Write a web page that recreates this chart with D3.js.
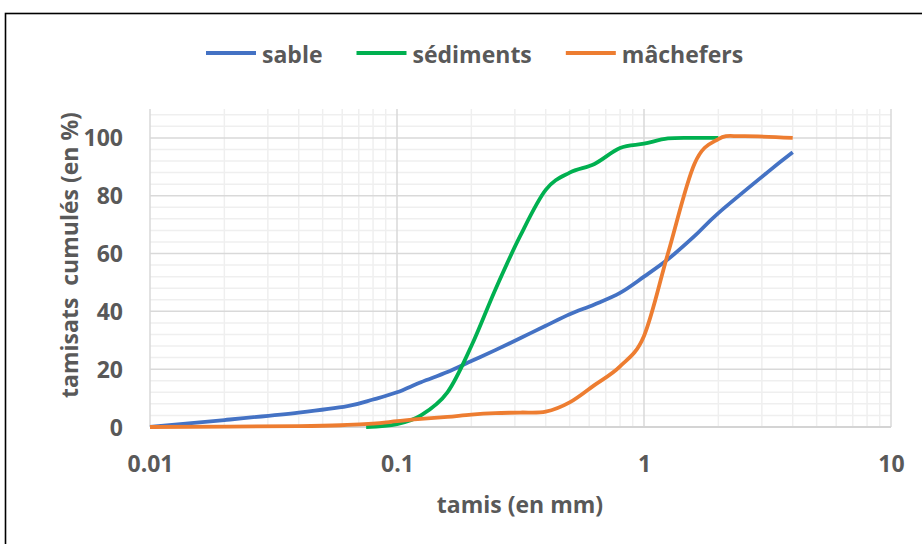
<!DOCTYPE html>
<html>
<head>
<meta charset="utf-8">
<script src="https://cdn.jsdelivr.net/npm/d3@7"></script>
<style>
  html, body { margin: 0; padding: 0; background: #fff; }
  svg { display: block; }
  text { font-family: "Open Sans", "Noto Sans", sans-serif; font-weight: 700; fill: #595959; }
</style>
</head>
<body>
<svg id="chart" width="922" height="544"></svg>
<script>
// ---- data ----
const seriesNames = ["sable", "sédiments", "mâchefers"];
const seriesColors = ["#4472C4", "#00B050", "#ED7D31"];

const sableSize = [0.01, 0.02, 0.04, 0.063, 0.08, 0.1, 0.125, 0.16, 0.2, 0.25, 0.315, 0.4, 0.5, 0.63, 0.8, 1, 1.25, 1.6, 2, 3.15, 4];
const sableVal  = [0, 2.4, 5, 7.2, 9.5, 12, 15.5, 19, 22.8, 26.6, 30.7, 35, 39, 42.4, 46.4, 52, 58, 66, 74, 88, 95];

const sedSize = [0.075, 0.1, 0.125, 0.16, 0.2, 0.25, 0.315, 0.4, 0.5, 0.63, 0.8, 1, 1.25, 1.6, 2];
const sedVal  = [0, 1, 4, 12, 28, 47.5, 66, 82, 88, 91, 96.5, 98, 99.8, 100, 100];

const machSize = [0.01, 0.04, 0.063, 0.08, 0.1, 0.125, 0.16, 0.2, 0.25, 0.315, 0.4, 0.5, 0.63, 0.8, 1, 1.25, 1.6, 2, 2.5, 4];
const machVal  = [0, 0.3, 0.7, 1.2, 2, 2.8, 3.5, 4.3, 4.8, 5, 5.3, 8.5, 14.5, 21, 31.5, 60, 91, 99.6, 100.6, 100];

const xTicks = [0.01, 0.1, 1, 10];
const xTickLabels = ["0.01", "0.1", "1", "10"];
const yTicks = [0, 20, 40, 60, 80, 100];
const xTitle = "tamis (en mm)";
const yTitle = "tamisats  cumulés (en %)";

// ---- chart ----
const svg = d3.select("#chart");

// outer frame
svg.append("rect").attr("x", 5.5).attr("y", 13.5).attr("width", 930).attr("height", 560)
  .attr("fill", "#fff").attr("stroke", "#000").attr("stroke-width", 1.6);

const x = d3.scaleLog().domain([0.01, 10]).range([150, 891]);
const y = d3.scaleLinear().domain([0, 110]).range([427, 109]);

const grid = svg.append("g");
const minorX = [];
for (let d = 0.01; d < 10; d *= 10) for (let k = 2; k <= 9; k++) minorX.push(d * k);
grid.selectAll(".mx").data(minorX).join("line")
  .attr("x1", d => x(d)).attr("x2", d => x(d)).attr("y1", y(110)).attr("y2", y(0))
  .attr("stroke", "#efefef").attr("stroke-width", 1.5);
const minorY = d3.range(4, 110, 4).filter(v => v % 20 !== 0);
grid.selectAll(".my").data(minorY).join("line")
  .attr("x1", x(0.01)).attr("x2", x(10)).attr("y1", d => y(d)).attr("y2", d => y(d))
  .attr("stroke", "#efefef").attr("stroke-width", 1.5);
grid.selectAll(".My").data(yTicks.slice(1)).join("line")
  .attr("x1", x(0.01)).attr("x2", x(10)).attr("y1", d => y(d)).attr("y2", d => y(d))
  .attr("stroke", "#d9d9d9").attr("stroke-width", 1.5);
grid.selectAll(".Mx").data(xTicks).join("line")
  .attr("x1", d => x(d)).attr("x2", d => x(d)).attr("y1", y(110)).attr("y2", y(0))
  .attr("stroke", "#d9d9d9").attr("stroke-width", 1.5);
grid.append("line").attr("x1", x(0.01)).attr("x2", x(10)).attr("y1", y(0)).attr("y2", y(0))
  .attr("stroke", "#d4d4d4").attr("stroke-width", 1.8);

// axes labels via d3 axes
const xAxis = d3.axisBottom(x).tickValues(xTicks).tickFormat((d, i) => xTickLabels[i]).tickSize(0).tickPadding(0);
const gx = svg.append("g").attr("transform", `translate(0,${y(0)})`).call(xAxis);
gx.select(".domain").remove();
gx.selectAll("text").attr("font-size", 23).attr("font-family", null).attr("fill", null)
  .attr("y", 44.5).attr("dy", null);

const yAxis = d3.axisLeft(y).tickValues(yTicks).tickSize(0).tickPadding(0);
const gy = svg.append("g").attr("transform", `translate(123,0)`).call(yAxis);
gy.select(".domain").remove();
gy.selectAll("text").attr("font-size", 23).attr("font-family", null).attr("fill", null)
  .attr("x", 0).attr("dy", "0.35em");

// series
const series = [
  { name: seriesNames[0], color: seriesColors[0], sz: sableSize, v: sableVal },
  { name: seriesNames[1], color: seriesColors[1], sz: sedSize, v: sedVal },
  { name: seriesNames[2], color: seriesColors[2], sz: machSize, v: machVal }
];
const line = d3.line().x(d => x(d[0])).y(d => y(d[1])).curve(d3.curveCatmullRom.alpha(0));
svg.append("g").selectAll("path").data(series).join("path")
  .attr("d", s => line(s.sz.map((d, i) => [d, s.v[i]])))
  .attr("fill", "none").attr("stroke", s => s.color).attr("stroke-width", 3.8)
  .attr("stroke-linejoin", "round");

// titles
svg.append("text").attr("x", 520).attr("y", 513).attr("text-anchor", "middle")
  .attr("font-size", 23).text(xTitle);
svg.append("text").attr("transform", "translate(78,255) rotate(-90)").attr("text-anchor", "middle")
  .attr("font-size", 23).style("white-space", "pre").attr("xml:space", "preserve").text(yTitle);

// legend
const lg = svg.append("g");
let lx = 206;
series.forEach(s => {
  lg.append("line").attr("x1", lx).attr("x2", lx + 50).attr("y1", 53).attr("y2", 53)
    .attr("stroke", s.color).attr("stroke-width", 4);
  const t = lg.append("text").attr("x", lx + 56).attr("y", 62.5).attr("font-size", 23).text(s.name);
  lx += 56 + t.node().getComputedTextLength() + 34;
});
</script>
</body>
</html>
